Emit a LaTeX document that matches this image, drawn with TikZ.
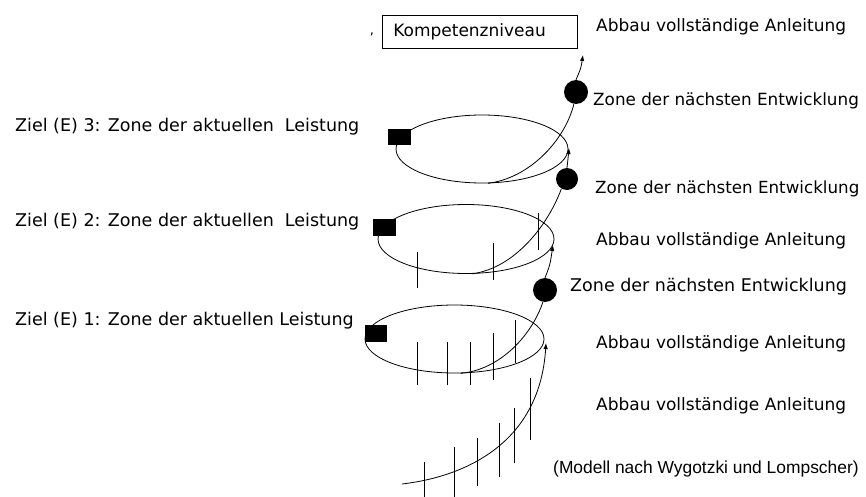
\documentclass[tikz,border=0pt]{standalone}
\usepackage{fontspec}
\setmainfont{DejaVu Sans}
\newfontfamily\modfont{Liberation Sans}
\usetikzlibrary{arrows.meta,shapes.geometric}
\begin{document}
\begin{tikzpicture}[x=1pt,y=-1pt,
  lbl/.style={font=\fontsize{17}{20}\selectfont, inner sep=0pt, anchor=west},
  wlbl/.style={font=\fontsize{17.5}{20}\selectfont, inner sep=0pt, anchor=west},
  ring/.style={ellipse, draw, line width=0.8pt, inner sep=0pt},
  sq/.style={rectangle, fill=black, inner sep=0pt},
  dot/.style={circle, fill=black, inner sep=0pt},
  conn/.style={line width=0.8pt},
  arr/.style={line width=0.8pt, -{Latex[length=6pt,width=4.5pt]}},
  tick/.style={line width=1pt}]
\path[use as bounding box] (0,0) rectangle (866,497);
\clip (0,0) rectangle (866,497);

% ellipses (levels)
\node[ring, minimum width=172pt, minimum height=68pt] (e3) at (482,149) {};
\node[ring, minimum width=176pt, minimum height=69pt] (e2) at (466,239) {};
\node[ring, minimum width=179pt, minimum height=68pt] (e1) at (454.5,339) {};

% squares
\node[sq, minimum width=23pt, minimum height=16pt] (s3) at (399.5,137.5) {};
\node[sq, minimum width=23pt, minimum height=17pt] (s2) at (384.5,227.5) {};
\node[sq, minimum width=22pt, minimum height=17pt] (s1) at (376,333.5) {};

% circles
\node[dot, minimum size=24pt] (d3) at (576,92) {};
\node[dot, minimum size=22pt] (d2) at (567,179) {};
\node[dot, minimum size=24pt] (d1) at (545,290) {};

% arrow tips
\coordinate (start) at (402,484);
\coordinate (t1) at (546,343);
\coordinate (t2) at (553,245);
\coordinate (t3) at (569,148);
\coordinate (t4) at (583,55);

% ticks
\foreach \x/\a/\b in {424/462/497, 454/447/497, 477/438/486, 499/423/477, 514/408/463, 530/378/440,
                      417/342/385, 447/342/385, 470/342/385, 493/333/380, 515/320/363,
                      417/252/288, 493/243/280, 538/213/250}
  \draw[tick] (\x,\a) -- (\x,\b);

% spiral connectors
\draw[arr] (start) .. controls (470,476) and (540,440) .. (t1);
\draw[conn] (e1.-80) .. controls (500,370) and (532,335) .. (d1.-100);
\draw[arr] (d1.north) .. controls (550,265) .. (t2);
\draw[conn] (e2.-80) .. controls (515,268) and (548,225) .. (d2.-120);
\draw[arr] (d2.north) .. controls (568,160) .. (t3);
\draw[conn] (e3.-80) .. controls (530,178) and (565,140) .. (d3.-100);
\draw[arr] (d3.north) .. controls (581,68) .. (t4);

% box
\node[draw, line width=0.6pt, anchor=west, inner xsep=11pt, inner ysep=0pt,
      minimum height=33pt, text width=173pt, align=left,
      font=\fontsize{17}{20}\selectfont] (kn) at (382,31.5) {Kompetenzniveau};
\node[font=\fontsize{13}{14}\selectfont, inner sep=0pt] (cm) at (372,34) {,};

% right labels
\node[lbl] (ab4) at (596,27) {Abbau vollständige Anleitung};
\node[lbl, font=\fontsize{16.8}{20}\selectfont] (z3) at (593,101) {Zone der nächsten Entwicklung};
\node[lbl, font=\fontsize{16.7}{20}\selectfont] (z2) at (595,189) {Zone der nächsten Entwicklung};
\node[lbl] (ab3) at (596,241) {Abbau vollständige Anleitung};
\node[wlbl] (z1) at (570,287) {Zone der nächsten Entwicklung};
\node[lbl] (ab2) at (596,344) {Abbau vollständige Anleitung};
\node[lbl] (ab1) at (596,406) {Abbau vollständige Anleitung};
\node[lbl, font=\modfont\fontsize{17.4}{20}\selectfont] (src) at (553,469) {(Modell nach Wygotzki und Lompscher)};

% left labels
\node[wlbl] (l3) at (15,127) {Ziel (E) 3: Zone der aktuellen\ \ Leistung};
\node[wlbl] (l2) at (15,222) {Ziel (E) 2: Zone der aktuellen\ \ Leistung};
\node[wlbl] (l1) at (15,321) {Ziel (E) 1: Zone der aktuellen Leistung};
\end{tikzpicture}
\end{document}
